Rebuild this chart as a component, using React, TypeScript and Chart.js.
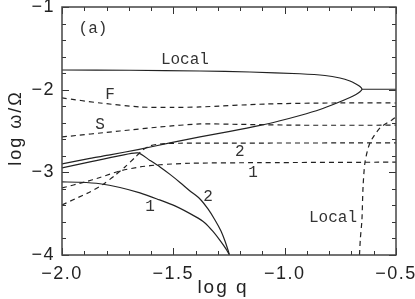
import React, { useEffect, useRef } from "react";
import { Chart, registerables } from "chart.js";

Chart.register(...registerables);

// Axis ticks
const xTicks = [-2.0, -1.5, -1.0, -0.5];
const yTicks = [-4, -3, -2, -1];
const xMinorStep = 0.1;
const yMinorStep = 0.2;

// Solid "Local" curve (upper branch, turning point, lower branch)
const localSolidX = [-2.0, -1.6947, -1.3803, -1.1558, -0.9313, -0.819, -0.7517, -0.7068, -0.6798, -0.6618, -0.6528,
  -0.6618, -0.6798, -0.7068, -0.7652, -0.8415, -0.9313, -1.0211, -1.1109, -1.2456, -1.3803, -1.515, -1.6587, -1.7845, -1.8743, -2.0];
const localSolidY = [-1.7618, -1.7654, -1.7739, -1.786, -1.8077, -1.8283, -1.8585, -1.8948, -1.9311, -1.9613, -1.995,
  -2.0258, -2.058, -2.0943, -2.1608, -2.2394, -2.312, -2.3761, -2.4329, -2.5054, -2.5719, -2.6445, -2.7243, -2.7896, -2.8307, -2.8984];
// Solid flat continuation
const localFlatX = [-0.6528, -0.5];
const localFlatY = [-1.995, -1.995];
// Solid branch "2"
const solid2X = [-2.0, -1.8743, -1.7396, -1.6587, -1.6049, -1.56, -1.515, -1.4701, -1.4252, -1.3803, -1.3444, -1.313, -1.286, -1.2681, -1.2546, -1.2479];
const solid2Y = [-2.947, -2.874, -2.798, -2.765, -2.856, -2.935, -3.025, -3.122, -3.225, -3.322, -3.443, -3.576, -3.709, -3.83, -3.939, -4.0];
// Solid branch "1"
const solid1X = [-2.0, -1.9192, -1.8294, -1.7396, -1.6498, -1.5734, -1.4926, -1.4028, -1.3579, -1.322, -1.2905, -1.2636, -1.2479];
const solid1Y = [-3.116, -3.12, -3.138, -3.183, -3.249, -3.322, -3.406, -3.533, -3.612, -3.715, -3.823, -3.926, -4.0];
// Dashed F
const dashFX = [-2.0, -1.829, -1.65, -1.5, -1.38, -1.08, -0.783, -0.5];
const dashFY = [-2.1, -2.161, -2.209, -2.215, -2.209, -2.173, -2.161, -2.161];
// Dashed S
const dashSX = [-2.0, -1.74, -1.56, -1.38, -1.2, -0.93, -0.5];
const dashSY = [-2.572, -2.5, -2.451, -2.415, -2.42, -2.43, -2.43];
// Dashed "2"
const dash2X = [-2.0, -1.9416, -1.8743, -1.8159, -1.762, -1.7171, -1.6722, -1.6363, -1.6049, -1.56, -1.4701, -0.5];
const dash2Y = [-3.394, -3.322, -3.237, -3.146, -3.037, -2.935, -2.82, -2.729, -2.681, -2.657, -2.648, -2.644];
// Dashed "1"
const dash1X = [-2.0, -1.8967, -1.8294, -1.7396, -1.6498, -1.56, -1.4252, -1.1109, -0.5];
const dash1Y = [-3.189, -3.116, -3.062, -2.983, -2.935, -2.908, -2.89, -2.883, -2.877];
// Dashed "Local" (right)
const dashLocalX = [-0.664, -0.66, -0.653, -0.648, -0.639, -0.617, -0.572, -0.518, -0.5];
const dashLocalY = [-4.0, -3.8, -3.576, -3.177, -2.874, -2.644, -2.463, -2.366, -2.33];

// In-plot annotations
const labelTexts = ["(a)", "Local", "F", "S", "2", "1", "2", "1", "Local"];
const labelX = [-1.861, -1.448, -1.784, -1.829, -1.201, -1.142, -1.344, -1.605, -0.783];
const labelY = [-1.266, -1.641, -2.064, -2.427, -2.753, -3.007, -3.297, -3.418, -3.551];

// Axis titles
const xTitle = "log q";
const yTitle = "log \u03c9/\u03a9";

const INK = "#222";
const SANS = '"Liberation Sans", Arial, Helvetica, sans-serif';
const MONO = '"Liberation Mono", "Courier New", monospace';

const toPts = (xs: number[], ys: number[]) => xs.map((x, i) => ({ x, y: ys[i] }));
const fmt = (v: number, d: number) => {
  const s = Math.abs(v).toFixed(d);
  return v < 0 ? "\u2212" + s : s;
};

const spacingPlugin = {
  id: "spacing",
  beforeDraw(chart: any) {
    (chart.ctx as any).letterSpacing = "1.5px";
  },
  afterDraw(chart: any) {
    (chart.ctx as any).letterSpacing = "0px";
  },
};

const framePlugin = {
  id: "frameTicksLabels",
  afterDatasetsDraw(chart: any) {
    const { ctx, chartArea, scales } = chart;
    const { left, right, top, bottom } = chartArea;
    const xs = scales.x;
    const ys = scales.y;
    ctx.save();
    // ticks
    ctx.strokeStyle = "#333";
    ctx.lineWidth = 1;
    const nx = Math.round((xs.max - xs.min) / xMinorStep);
    for (let i = 0; i <= nx; i++) {
      const v = xs.min + i * xMinorStep;
      const px = Math.round(xs.getPixelForValue(v)) + 0.5;
      const len = i % 5 === 0 ? 7 : 4;
      ctx.beginPath();
      ctx.moveTo(px, bottom);
      ctx.lineTo(px, bottom - len);
      ctx.moveTo(px, top);
      ctx.lineTo(px, top + len);
      ctx.stroke();
    }
    const ny = Math.round((ys.max - ys.min) / yMinorStep);
    for (let i = 0; i <= ny; i++) {
      const v = ys.min + i * yMinorStep;
      const py = Math.round(ys.getPixelForValue(v)) + 0.5;
      const len = i % 5 === 0 ? 7 : 4;
      ctx.beginPath();
      ctx.moveTo(left, py);
      ctx.lineTo(left + len, py);
      ctx.moveTo(right, py);
      ctx.lineTo(right - len, py);
      ctx.stroke();
    }
    // frame
    ctx.strokeStyle = "#444";
    ctx.lineWidth = 1.5;
    ctx.strokeRect(left, top, right - left, bottom - top);
    // in-plot labels
    ctx.letterSpacing = "0px";
    ctx.fillStyle = "#333";
    ctx.font = `16px ${MONO}`;
    ctx.textAlign = "center";
    ctx.textBaseline = "middle";
    labelTexts.forEach((t, i) => {
      ctx.fillText(t, xs.getPixelForValue(labelX[i]), ys.getPixelForValue(labelY[i]));
    });
    // axis titles
    ctx.letterSpacing = "2px";
    ctx.fillStyle = INK;
    ctx.font = `19px ${SANS}`;
    ctx.fillText(xTitle, (left + right) / 2 - 6, chart.height - 11);
    ctx.translate(16, (top + bottom) / 2 - 3);
    ctx.rotate(-Math.PI / 2);
    ctx.font = `18px ${SANS}`;
    ctx.fillText(yTitle, 0, 0);
    ctx.restore();
  },
};

export default function App() {
  const ref = useRef<HTMLCanvasElement | null>(null);
  useEffect(() => {
    if (!ref.current) return;
    const solid = { borderColor: INK, borderWidth: 1.2, pointRadius: 0, showLine: true, fill: false, tension: 0.25 };
    const dashed = { ...solid, borderDash: [5, 4] };
    const chart = new Chart(ref.current, {
      type: "scatter",
      data: {
        datasets: [
          { ...solid, data: toPts(localSolidX, localSolidY) },
          { ...solid, tension: 0, data: toPts(localFlatX, localFlatY) },
          { ...solid, data: toPts(solid2X, solid2Y) },
          { ...solid, data: toPts(solid1X, solid1Y) },
          { ...dashed, data: toPts(dashFX, dashFY) },
          { ...dashed, data: toPts(dashSX, dashSY) },
          { ...dashed, data: toPts(dash2X, dash2Y) },
          { ...dashed, data: toPts(dash1X, dash1Y) },
          { ...dashed, data: toPts(dashLocalX, dashLocalY) },
        ] as any,
      },
      options: {
        responsive: false,
        maintainAspectRatio: false,
        animation: false,
        layout: { padding: { top: 7, right: 19, left: 0, bottom: 0 } },
        plugins: { legend: { display: false }, tooltip: { enabled: false } },
        scales: {
          x: {
            type: "linear",
            min: -2,
            max: -0.5,
            afterBuildTicks: (s: any) => {
              s.ticks = xTicks.map((value) => ({ value }));
            },
            afterFit: (s: any) => {
              s.height = 44;
              s.paddingLeft = 0;
              s.paddingRight = 0;
              s.paddingTop = 0;
              s.paddingBottom = 0;
            },
            ticks: {
              callback: (v: any) => fmt(Number(v), 1),
              font: { family: SANS, size: 18 },
              color: INK,
              padding: 8,
              maxRotation: 0,
              autoSkip: false,
            },
            grid: { display: false, drawTicks: false },
            border: { display: false },
            title: { display: false },
          },
          y: {
            type: "linear",
            min: -4,
            max: -1,
            afterBuildTicks: (s: any) => {
              s.ticks = yTicks.map((value) => ({ value }));
            },
            afterFit: (s: any) => {
              s.width = 62;
              s.paddingLeft = 0;
              s.paddingRight = 0;
              s.paddingTop = 0;
              s.paddingBottom = 0;
            },
            ticks: {
              callback: (v: any) => fmt(Number(v), 0),
              font: { family: SANS, size: 18 },
              color: INK,
              padding: 7,
              autoSkip: false,
            },
            grid: { display: false, drawTicks: false },
            border: { display: false },
            title: { display: false },
          },
        },
      } as any,
      plugins: [spacingPlugin, framePlugin],
    });
    return () => chart.destroy();
  }, []);
  return (
    <div style={{ position: "fixed", left: 0, top: 0, width: 415, height: 299, background: "#fff" }}>
      <canvas ref={ref} width={415} height={299} style={{ display: "block", width: 415, height: 299 }} />
    </div>
  );
}
